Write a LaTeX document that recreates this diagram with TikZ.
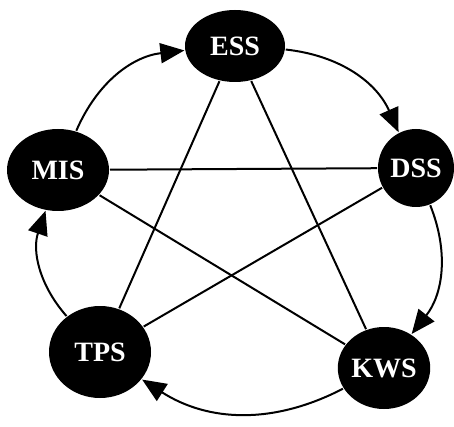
\documentclass[tikz,border=0pt]{standalone}
\usepackage{fontspec}
\setmainfont{Liberation Serif}
\usetikzlibrary{arrows.meta, shapes.geometric}

\begin{document}
\begin{tikzpicture}[
        x=1pt, y=1pt, line width=2pt, >={Triangle[length=24pt,width=20pt]},
        sys/.style={ellipse, fill=black, text=white, inner sep=0pt,
          font=\bfseries\fontsize{28}{28}\selectfont},
        ]
        \useasboundingbox (0,0) rectangle (454,-427);
        \node[sys, minimum width=100pt, minimum height=72pt] (ess) at (235,-46)  {ESS};
        \node[sys, minimum width=76pt,  minimum height=78pt] (dss) at (416,-168) {DSS};
        \node[sys, minimum width=92pt,  minimum height=82pt] (kws) at (384,-368) {KWS};
        \node[sys, minimum width=102pt, minimum height=92pt] (tps) at (100,-352) {TPS};
        \node[sys, minimum width=102pt, minimum height=82pt] (mis) at (58,-170)  {MIS};

        % star
        \path (ess) edge (tps) edge (kws);
        \path (mis) edge (dss) edge (kws);
        \path (dss) edge (tps);

        % cycle
        \path[->] (ess) edge[bend left=30] (dss)
                  (dss) edge[bend left=30] (kws)
                  (kws) edge[bend left=30] (tps)
                  (tps) edge[bend left=30] (mis)
                  (mis) edge[bend left=30] (ess);
\end{tikzpicture}
\end{document}
